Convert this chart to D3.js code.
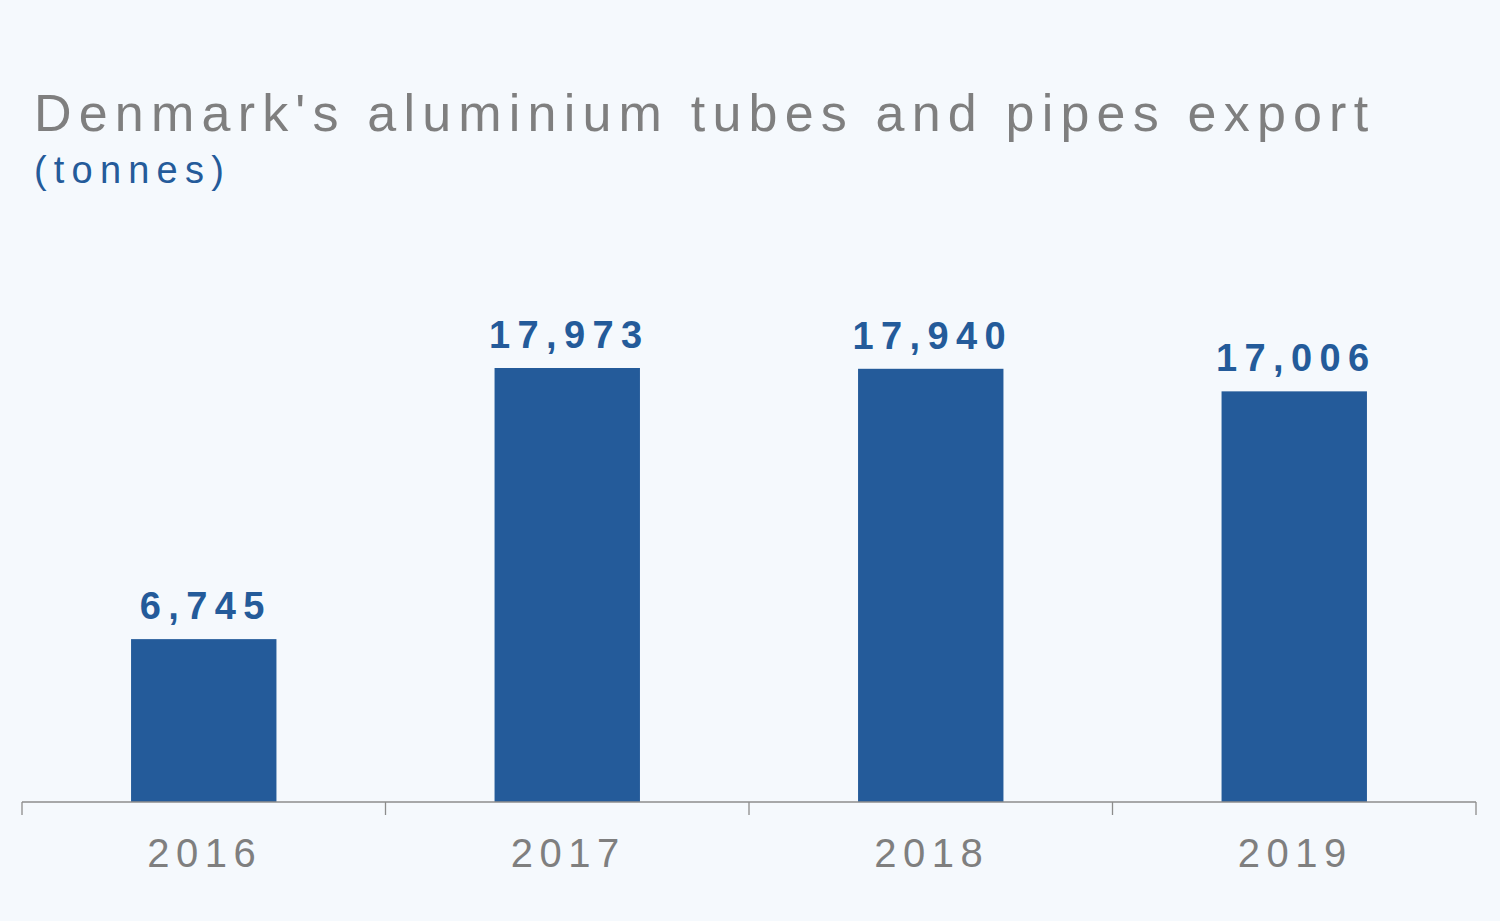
<!DOCTYPE html>
<html>
<head>
<meta charset="utf-8">
<script src="https://cdn.jsdelivr.net/npm/d3@7"></script>
<style>
  body { margin: 0; background: #f5f9fd; }
  svg { display: block; font-family: "Liberation Sans", Arial, sans-serif; }
</style>
</head>
<body>
<svg id="chart" width="1500" height="921"></svg>
<script>
const years = ["2016", "2017", "2018", "2019"];
const tonnes = [6745, 17973, 17940, 17006];

const svg = d3.select("#chart");
const baseY = 802;

svg.append("rect").attr("width", 1500).attr("height", 921).attr("fill", "#f5f9fd");

// title
svg.append("text")
  .attr("x", 34).attr("y", 131)
  .attr("fill", "#7f7f7f")
  .style("font-size", "52px")
  .style("letter-spacing", "7.2px")
  .text("Denmark's aluminium tubes and pipes export");

svg.append("text")
  .attr("x", 34).attr("y", 183)
  .attr("fill", "#245b9a")
  .style("font-size", "38px")
  .style("letter-spacing", "7.2px")
  .text("(tonnes)");

const x = d3.scaleBand()
  .domain(years)
  .range([22, 1476])
  .padding(0);

const y = d3.scaleLinear()
  .domain([0, 17973])
  .range([baseY, 368]);

const barW = x.bandwidth() * 0.4;

svg.selectAll(".bar")
  .data(years)
  .join("rect")
    .attr("class", "bar")
    .attr("x", (d) => x(d) + (x.bandwidth() - barW) / 2)
    .attr("y", (d, i) => y(tonnes[i]))
    .attr("width", barW)
    .attr("height", (d, i) => baseY - y(tonnes[i]))
    .attr("fill", "#245b9a");

svg.selectAll(".val")
  .data(years)
  .join("text")
    .attr("class", "val")
    .attr("x", (d) => x(d) + x.bandwidth() / 2 + 2)
    .attr("y", (d, i) => y(tonnes[i]) - 20)
    .attr("text-anchor", "middle")
    .attr("fill", "#245b9a")
    .style("font-size", "38px")
    .style("font-weight", "bold")
    .style("letter-spacing", "7.4px")
    .text((d, i) => d3.format(",")(tonnes[i]));

// axis
const axis = svg.append("g").attr("transform", `translate(0,${baseY})`);
axis.append("line")
  .attr("x1", 22).attr("x2", 1476)
  .attr("stroke", "#8c8c8c").attr("stroke-width", 1.3);

const edges = years.map((d) => x(d)).concat([x.range()[1]]);
axis.selectAll(".tick")
  .data(edges)
  .join("line")
    .attr("x1", (d) => d).attr("x2", (d) => d)
    .attr("y1", 0).attr("y2", 13)
    .attr("stroke", "#8c8c8c").attr("stroke-width", 1.3);

axis.selectAll(".lab")
  .data(years)
  .join("text")
    .attr("x", (d) => x(d) + x.bandwidth() / 2 + 1)
    .attr("y", 65)
    .attr("text-anchor", "middle")
    .attr("fill", "#7f7f7f")
    .style("font-size", "40px")
    .style("letter-spacing", "6.5px")
    .text((d) => d);
</script>
</body>
</html>
